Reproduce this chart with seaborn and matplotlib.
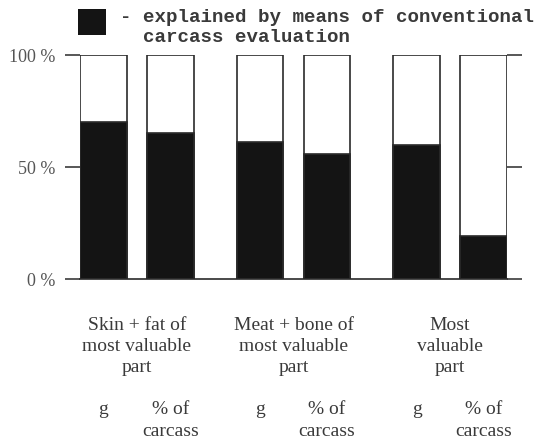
import matplotlib
matplotlib.use("Agg")
import matplotlib.pyplot as plt
from matplotlib.patches import Rectangle
from matplotlib.transforms import blended_transform_factory
import seaborn as sns
import pandas as pd

# data
parts = ["Skin + fat of\nmost valuable\npart",
         "Meat + bone of\nmost valuable\npart",
         "Most\nvaluable\npart"]
measures = ["g", "% of\ncarcass"]
explained = [70, 65, 61, 56, 60, 19]  # % explained, in part/measure order
yticks = [0, 50, 100]
ytick_labels = ["0 %", "50 %", "100 %"]
legend_text = ["- explained by means of conventional", "  carcass evaluation"]

df = pd.DataFrame({
    "part": [p for p in parts for _ in measures],
    "measure": measures * len(parts),
    "explained": explained,
})
df["total"] = 100

sns.set_style("white")
plt.rcParams["font.family"] = ["Liberation Serif", "DejaVu Serif"]

W, H = 537, 439
fig = plt.figure(figsize=(W / 100, H / 100), dpi=100)
ax = fig.add_axes([80 / W, 159 / H, 427 / W, 224 / H])

edge = "#2a2a2a"
common = dict(data=df, x="part", hue="measure", hue_order=measures, dodge=True,
              width=0.856, gap=0.3, errorbar=None, saturation=1,
              edgecolor=edge, linewidth=1.2, legend=False, ax=ax)
sns.barplot(y="total", palette=["white", "white"], **common)
sns.barplot(y="explained", palette=["#141414", "#141414"], **common)

ax.set_xlim(-0.364, len(parts) - 1 + 0.364)
ax.set_ylim(0, 100)
ax.set_xlabel("")
ax.set_ylabel("")

for s in ["top", "left", "right"]:
    ax.spines[s].set_visible(False)
ax.spines["bottom"].set_color(edge)
ax.spines["bottom"].set_linewidth(1.2)

ax.set_yticks(yticks)
ax.set_yticklabels(ytick_labels, fontsize=13, color="#555555")
ax.tick_params(axis="y", left=True, right=True, direction="out",
               length=10.8, width=1.1, color=edge, pad=7)
ax.tick_params(axis="x", length=0, pad=27)
ax.set_xticks(range(len(parts)))
ax.set_xticklabels(parts, fontsize=14, color="#3a3a3a", linespacing=1.3)

# measure labels under each bar
centers = sorted(p.get_x() + p.get_width() / 2 for p in ax.patches[:len(df)])
trans = blended_transform_factory(ax.transData, ax.transAxes)
for i, cx in enumerate(centers):
    ax.text(cx, -0.54, measures[i % len(measures)], transform=trans,
            ha="center", va="top", fontsize=14, color="#3a3a3a",
            linespacing=1.35)

# legend box and typewriter text
fig.patches.append(Rectangle((78 / W, 1 - 36 / H), 28 / W, 26 / H,
                             transform=fig.transFigure, facecolor="#141414",
                             edgecolor="none"))
for j, line in enumerate(legend_text):
    fig.text(120 / W, 1 - (17 + 20 * j) / H, line, family="Liberation Mono",
             weight="bold", fontsize=13.8, color="#3a3a3a", va="center", ha="left")

fig.savefig("out.png", dpi=100)
